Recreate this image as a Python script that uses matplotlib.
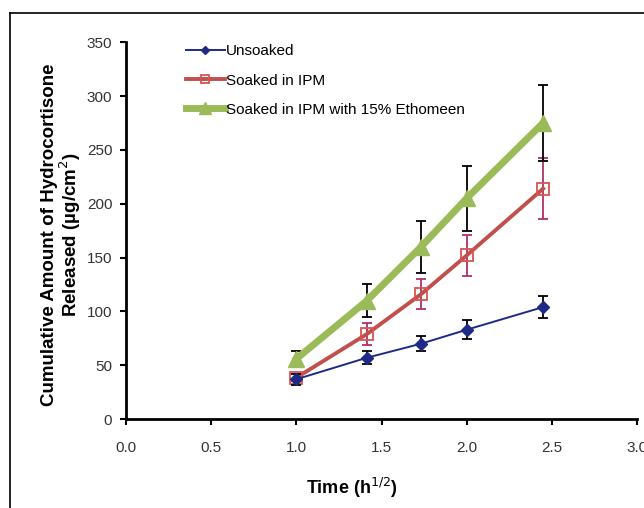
import numpy as np
import matplotlib.pyplot as plt
from matplotlib.lines import Line2D

plt.rcParams['font.family'] = ['Liberation Sans', 'DejaVu Sans']

# square root of time (h^1/2)
time_sqrt = [1.0, 1.414, 1.732, 2.0, 2.449]

unsoaked = [37, 57, 70, 83, 104]
unsoaked_err = [5, 6, 7, 9, 10.5]

soaked_ipm = [38.5, 79, 116, 152, 214]
soaked_ipm_err = [3, 10, 14, 19, 28]

soaked_eth = [56, 110, 160, 205, 275]
soaked_eth_err = [7, 15, 24, 30, 35]

labels = ["Unsoaked", "Soaked in IPM", "Soaked in IPM with 15% Ethomeen"]

fig = plt.figure(figsize=(6.44, 5.08), dpi=100)
ax = fig.add_axes([0.196, 0.175, 0.793, 0.742])

# outer frame of the original figure (cut at right and bottom)
fig.add_artist(Line2D([0.016, 0.016], [0.0, 0.974], transform=fig.transFigure, color="black", lw=1.2))
fig.add_artist(Line2D([0.016, 1.0], [0.974, 0.974], transform=fig.transFigure, color="black", lw=1.2))

ipm = ax.errorbar(time_sqrt, soaked_ipm, yerr=soaked_ipm_err, color="#C0504D", lw=2.8,
                  marker="s", ms=8, mfc="none", mec="#D9534F", mew=1.3,
                  ecolor="#B0306A", elinewidth=1.3, capsize=3.5, capthick=1.3, zorder=3)
eth = ax.errorbar(time_sqrt, soaked_eth, yerr=soaked_eth_err, color="#9BBB59", lw=5,
                  marker="^", ms=12, mfc="#9BBB59", mec="#9BBB59",
                  ecolor="black", elinewidth=1.3, capsize=3.5, capthick=1.3, zorder=4)
uns = ax.errorbar(time_sqrt, unsoaked, yerr=unsoaked_err, color="#1F2A86", lw=1.4,
                  marker="D", ms=6.5, mfc="#1F2A86", mec="#1F2A86",
                  ecolor="black", elinewidth=1.3, capsize=3.5, capthick=1.3, zorder=5)

ax.set_xlim(0, 3.0)
ax.set_ylim(0, 350)
ax.set_xticks(np.arange(0, 3.01, 0.5))
ax.set_xticklabels([f"{v:.1f}" for v in np.arange(0, 3.01, 0.5)])
ax.set_yticks(np.arange(0, 351, 50))

for side in ["top", "right"]:
    ax.spines[side].set_visible(False)
ax.spines["left"].set_linewidth(2)
ax.spines["bottom"].set_linewidth(2)
ax.tick_params(axis="both", direction="out", length=4, width=1.5,
               labelsize=11, colors="black", labelcolor="#333333")
ax.tick_params(axis="x", pad=12)
ax.tick_params(axis="y", pad=6)

ax.set_xlabel("Time (h$^{1/2}$)", fontsize=13, fontweight="bold")
ax.xaxis.set_label_coords(0.442, -0.15)
ax.set_ylabel("Cumulative Amount of Hydrocortisone\nReleased (\u00b5g/cm$^2$)",
              fontsize=13.5, fontweight="bold", linespacing=0.98)
ax.yaxis.set_label_coords(-0.084, 0.49)

# legend shows only the line + marker, no error bars
leg = ax.legend([uns[0], ipm[0], eth[0]], labels,
                loc="upper left", bbox_to_anchor=(0.268, 0.94), bbox_transform=fig.transFigure,
                frameon=False, fontsize=11, handlelength=2.5, handletextpad=0.1,
                labelspacing=1.0, markerscale=0.7)

fig.savefig("out.png", dpi=100)
